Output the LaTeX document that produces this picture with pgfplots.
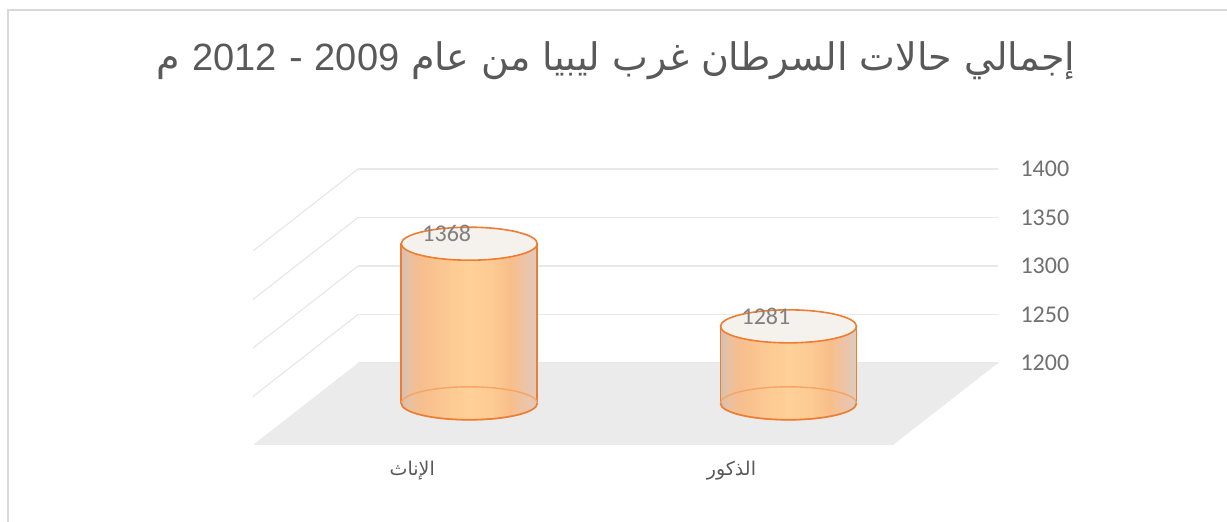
\documentclass[border=0pt]{standalone}
\usepackage{pgfplots}
\pgfplotsset{compat=1.18}
\usepackage{fontspec}
\setmainfont{Carlito}
\newfontfamily\arabicfont[Script=Arabic]{DejaVu Sans}
\newfontfamily\arialfont{Liberation Sans}
\TeXXeTstate=1

\definecolor{orangeC}{HTML}{ED7D31}
\definecolor{orangeL}{HTML}{F6A562}
\definecolor{topfill}{HTML}{F5F2EE}
\definecolor{floorgray}{HTML}{EBEBEB}
\definecolor{gridgray}{HTML}{E8E8E8}
\definecolor{bordergray}{HTML}{D9D9D9}
\definecolor{titlegray}{HTML}{595959}
\definecolor{tickgray}{HTML}{707070}
\definecolor{labelgray}{HTML}{808080}
\definecolor{cA}{HTML}{D4C0B4}
\definecolor{cB}{HTML}{EAC0A0}
\definecolor{cC}{HTML}{F6BE8D}
\definecolor{cD}{HTML}{FDCB94}
\definecolor{cE}{HTML}{FFD098}
\definecolor{cF}{HTML}{F8BE8A}
\definecolor{cG}{HTML}{EDC3A6}
\definecolor{cH}{HTML}{DCCBC1}

\pgfdeclarehorizontalshading{cyl}{100bp}{color(0bp)=(cA); color(25bp)=(cA); color(28bp)=(cB); color(32bp)=(cC); color(44bp)=(cD); color(50bp)=(cE); color(58bp)=(cD); color(65bp)=(cF); color(70.5bp)=(cG); color(75bp)=(cH); color(100bp)=(cH)}

\pgfdeclareplotmark{cylbot}{%
  \pgfpathellipse{\pgfpointorigin}{\pgfqpoint{68pt}{0pt}}{\pgfqpoint{0pt}{16.5pt}}%
  \pgfshadepath{cyl}{0}%
  \pgfusepath{stroke}}
\pgfdeclareplotmark{cylfront}{%
  \pgfpathmoveto{\pgfqpoint{-68pt}{0pt}}%
  \pgfpatharc{180}{360}{68pt and 16.5pt}%
  \pgfusepath{stroke}}
\pgfdeclareplotmark{cyltop}{%
  \pgfpathellipse{\pgfpointorigin}{\pgfqpoint{68pt}{0pt}}{\pgfqpoint{0pt}{16.5pt}}%
  \pgfusepath{fill,stroke}}

\begin{document}
\begin{tikzpicture}
\useasboundingbox (0pt,0pt) rectangle (1227pt,522pt);
\fill[white] (0pt,0pt) rectangle (1227pt,522pt);
\draw[bordergray, line width=2pt] (8pt,-5pt) -- (8pt,512pt) -- (1240pt,512pt);

% title
\node[anchor=base, inner sep=0pt, text=titlegray] at (616pt,451pt)
  {\fontsize{38}{44}\selectfont\beginR\arabicfont إجمالي حالات السرطان غرب ليبيا من عام {\arialfont 2009} - {\arialfont 2012} م\endR};

% back wall with gridlines and value axis
\begin{axis}[
  at={(358pt,159pt)}, anchor=south west,
  scale only axis, width=640pt, height=194pt,
  xmin=0, xmax=640, ymin=1200, ymax=1400,
  xtick=\empty, ytick={1200,1250,1300,1350,1400},
  ymajorgrids, grid style={gridgray, line width=1.2pt},
  axis line style={draw=none}, major tick length=0pt,
  yticklabel pos=right,
  yticklabel style={anchor=west, xshift=19pt, text=tickgray, font=\fontsize{24}{28}\selectfont},
  /pgf/number format/1000 sep={},
  /pgf/number format/assume math mode=true,
  clip=false,
]
\fill[floorgray] (axis cs:0,1200) -- (axis cs:640,1200) -- (axis cs:535,1115.5) -- (axis cs:-105,1115.5) -- cycle;
\draw[gridgray, line width=1.2pt] (axis cs:0,1250) -- (axis cs:-105,1165.5);
\draw[gridgray, line width=1.2pt] (axis cs:0,1300) -- (axis cs:-105,1215.5);
\draw[gridgray, line width=1.2pt] (axis cs:0,1350) -- (axis cs:-105,1265.5);
\draw[gridgray, line width=1.2pt] (axis cs:0,1400) -- (axis cs:-105,1315.5);
\end{axis}

% cylinders
\begin{axis}[
  at={(0pt,118.7pt)}, anchor=south west,
  scale only axis, width=1227pt, height=190pt,
  xmin=-1.4702, xmax=2.3762, ymin=1200, ymax=1400,
  xtick={0,1}, xticklabels={{\beginR الإناث\endR},{\beginR الذكور\endR}},
  ytick=\empty,
  xticklabel style={anchor=center, xshift=-57pt, yshift=-67pt, text=titlegray, font=\arabicfont\fontsize{19}{22}\selectfont},
  axis line style={draw=none}, major tick length=0pt,
  /pgf/number format/1000 sep={},
  clip mode=individual,
]
% bodies (shading)
\addplot[ybar, bar width=136pt, bar shift=0pt, shade, shading=cyl, draw=none] coordinates {(0,1368)};
\addplot[ybar, bar width=136pt, bar shift=0pt, shade, shading=cyl, draw=none] coordinates {(1,1281)};
% body outlines (sides)
\addplot[ybar, bar width=136pt, bar shift=0pt, fill=none, draw=orangeC, line width=1.6pt] coordinates {(0,1368) (1,1281)};
% bottom ellipses: shaded, back arc lighter
\addplot[only marks, mark=cylbot, mark options={draw=orangeL, line width=1.4pt}] coordinates {(0,1200) (1,1200)};
% bottom front arcs
\addplot[only marks, mark=cylfront, mark options={draw=orangeC, line width=1.6pt}] coordinates {(0,1200) (1,1200)};
% tops with data labels
\addplot[only marks, mark=cyltop, mark options={draw=orangeC, fill=topfill, line width=1.6pt},
  nodes near coords,
  nodes near coords style={anchor=center, xshift=-22.5pt, yshift=10pt, text=labelgray, font=\fontsize{24}{28}\selectfont, /pgf/number format/assume math mode=true}]
  coordinates {(0,1368) (1,1281)};
\end{axis}
\end{tikzpicture}
\end{document}
